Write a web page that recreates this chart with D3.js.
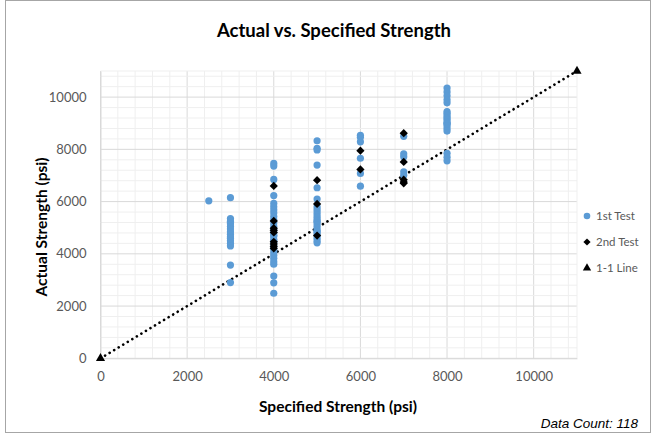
<!DOCTYPE html>
<html><head><meta charset="utf-8">
<script src="https://cdn.jsdelivr.net/npm/d3@7"></script>
<style>body{margin:0;background:#fff}</style>
</head><body><svg id="c" width="657" height="435"></svg>
<script>
// Data
const firstTestX = [2500,
 3000,3000,3000,3000,3000,3000,3000,3000,3000,3000,3000,3000,3000,3000,3000,3000,
 4000,4000,4000,4000,4000,4000,4000,4000,4000,4000,4000,4000,4000,4000,4000,4000,4000,4000,4000,4000,4000,4000,4000,4000,4000,4000,4000,4000,4000,
 5000,5000,5000,5000,5000,5000,5000,5000,5000,5000,5000,5000,5000,5000,5000,5000,5000,5000,5000,5000,5000,5000,5000,
 6000,6000,6000,6000,6000,6000,
 7000,7000,7000,7000,7000,
 8000,8000,8000,8000,8000,8000,8000,8000,8000,8000,8000,8000,8000,8000,8000,8000,8000,8000,8000];
const firstTestY = [6030,
 6150,5350,5250,5200,5150,5050,4950,4850,4750,4650,4600,4500,4400,4300,3570,2900,
 7460,7360,6850,6230,5930,5800,5680,5560,5430,5300,5180,5050,4920,4800,4700,4680,4560,4500,4430,4300,4180,4050,3950,3830,3700,3600,3150,2890,2490,
 8330,8040,7980,7400,6530,6100,5800,5700,5600,5500,5400,5300,5250,5200,5100,5000,4900,4850,4800,4700,4600,4500,4420,
 8540,8460,8290,7660,7080,6590,
 8500,7830,7720,7140,7010,
 10350,10200,10050,9900,9780,9450,9380,9300,9220,9150,9060,9000,8980,8900,8800,8700,7850,7700,7560];
const secondTestX = [4000,4000,4000,4000,4000,4000,4000,4000,4000, 5000,5000,5000, 6000,6000, 7000,7000,7000,7000,7000];
const secondTestY = [6600,5260,4980,4900,4820,4460,4380,4290,4210, 6820,5910,4700, 7950,7230, 8620,7520,6840,6750,6700];
const lineX = [0, 11000];
const lineY = [0, 11000];
const tickValues = [0,2000,4000,6000,8000,10000];
const seriesNames = ["1st Test","2nd Test","1-1 Line"];
const titleText = "Actual vs. Specified Strength";
const xTitle = "Specified Strength (psi)";
const yTitle = "Actual Strength (psi)";
const countText = "Data Count: 118";

const svg = d3.select("#c");
const font = "Lato, 'Open Sans', sans-serif";
const blue = "#5b9bd5";

svg.append("rect").attr("x",5.5).attr("y",0.5).attr("width",645).attr("height",432)
  .attr("fill","#fff").attr("stroke","#a6a6a6");

const x = d3.scaleLinear().domain([0,11000]).range([100.5,577]);
const y = d3.scaleLinear().domain([0,11000]).range([358.3,71]);

// gridlines
const minor = d3.range(0,11001,400);
const g = svg.append("g");
g.selectAll(".vm").data(minor).join("line")
  .attr("x1",d=>x(d)).attr("x2",d=>x(d)).attr("y1",y(0)).attr("y2",y(11000))
  .attr("stroke",d=>d%2000===0?"#d9d9d9":"#efefef").attr("stroke-width",1);
g.selectAll(".hm").data(minor).join("line")
  .attr("y1",d=>y(d)).attr("y2",d=>y(d)).attr("x1",x(0)).attr("x2",x(11000))
  .attr("stroke",d=>d%2000===0?"#d9d9d9":"#efefef").attr("stroke-width",1);
g.append("line").attr("x1",x(0)).attr("x2",x(11000)).attr("y1",y(11000)).attr("y2",y(11000)).attr("stroke","#efefef");
g.append("line").attr("x1",x(11000)).attr("x2",x(11000)).attr("y1",y(0)).attr("y2",y(11000)).attr("stroke","#efefef");

// axes
const xAxis = d3.axisBottom(x).tickValues(tickValues).tickSize(0).tickPadding(13).tickFormat(d3.format("d"));
const yAxis = d3.axisLeft(y).tickValues(tickValues).tickSize(0).tickPadding(14).tickFormat(d3.format("d"));
const xa = svg.append("g").attr("transform",`translate(0,${y(0)})`).call(xAxis);
const ya = svg.append("g").attr("transform",`translate(${x(0)},0)`).call(yAxis);
[xa,ya].forEach(a=>{
  a.select(".domain").attr("stroke","#d9d9d9");
  a.selectAll("text").attr("fill","#595959").attr("font-family",font).attr("font-size",13);
});

// 1-1 line
svg.append("path").datum(lineX.map((v,i)=>[v,lineY[i]]))
  .attr("d",d3.line().x(d=>x(d[0])).y(d=>y(d[1])))
  .attr("stroke","#000").attr("stroke-width",2.6).attr("stroke-linecap","round")
  .attr("stroke-dasharray","0.1 5.2").attr("fill","none");
svg.selectAll(".tri").data(lineX.map((v,i)=>[v,lineY[i]])).join("path")
  .attr("d",d3.symbol(d3.symbolTriangle,36)())
  .attr("transform",d=>`translate(${x(d[0])},${y(d[1])})`).attr("fill","#000");

// 1st test
svg.selectAll(".p1").data(firstTestX.map((v,i)=>[v,firstTestY[i]])).join("circle")
  .attr("cx",d=>x(d[0])).attr("cy",d=>y(d[1])).attr("r",3.6).attr("fill",blue);
// 2nd test
svg.selectAll(".p2").data(secondTestX.map((v,i)=>[v,secondTestY[i]])).join("path")
  .attr("d",d3.symbol(d3.symbolSquare,34)())
  .attr("transform",d=>`translate(${x(d[0])},${y(d[1])}) rotate(45)`).attr("fill","#000");

// titles
svg.append("text").attr("x",334).attr("y",37).attr("text-anchor","middle")
  .attr("font-family",font).attr("font-weight","bold").attr("font-size",18.5).attr("fill","#000").text(titleText);
svg.append("text").attr("x",338).attr("y",412).attr("text-anchor","middle")
  .attr("font-family",font).attr("font-weight","bold").attr("font-size",15.5).attr("fill","#000").text(xTitle);
svg.append("text").attr("transform","translate(47,227) rotate(-90)").attr("text-anchor","middle")
  .attr("font-family",font).attr("font-weight","bold").attr("font-size",15.5).attr("fill","#000").text(yTitle);

// legend
const lg = svg.append("g");
const ly = [216,242,268];
lg.append("circle").attr("cx",587).attr("cy",ly[0]).attr("r",3.3).attr("fill",blue);
lg.append("path").attr("d",d3.symbol(d3.symbolSquare,26)()).attr("transform",`translate(587,${ly[1]}) rotate(45)`).attr("fill","#000");
lg.append("path").attr("d",d3.symbol(d3.symbolTriangle,30)()).attr("transform",`translate(587,${ly[2]})`).attr("fill","#000");
lg.selectAll("text").data(seriesNames).join("text")
  .attr("x",596).attr("y",(d,i)=>ly[i]+4).attr("font-family",font).attr("font-size",11.5)
  .attr("fill","#595959").text(d=>d);

svg.append("text").attr("x",638).attr("y",428).attr("text-anchor","end")
  .attr("font-family","'Liberation Sans', Arial, sans-serif").attr("font-style","italic")
  .attr("font-size",13.5).attr("fill","#000").text(countText);
</script></body></html>
